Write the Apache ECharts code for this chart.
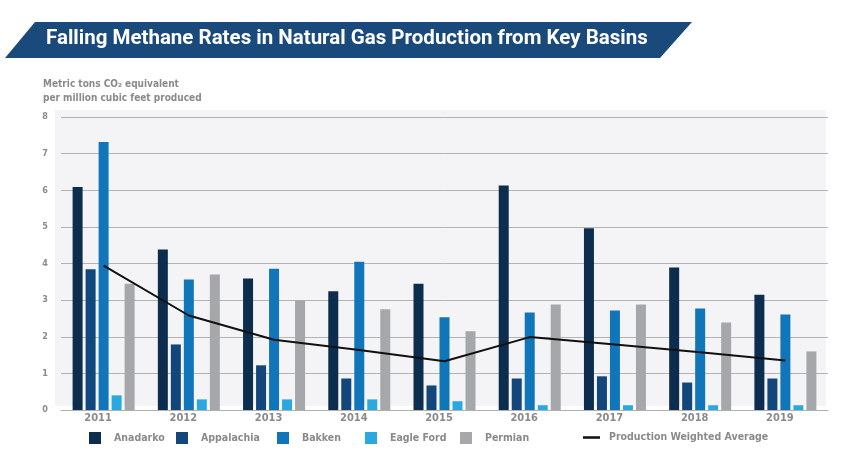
<!DOCTYPE html>
<html><head><meta charset="utf-8">
<script src="https://cdn.jsdelivr.net/npm/echarts@6/dist/echarts.min.js"></script>
<style>html,body{margin:0;padding:0;background:#fff}#c{width:845px;height:460px}</style>
</head><body><div id="c"></div>
<script>
const years = ['2011','2012','2013','2014','2015','2016','2017','2018','2019'];
const anadarko   = [6.09, 4.38, 3.59, 3.24, 3.45, 6.13, 4.96, 3.89, 3.15];
const appalachia = [3.84, 1.79, 1.22, 0.86, 0.67, 0.86, 0.92, 0.75, 0.86];
const bakken     = [7.32, 3.56, 3.86, 4.05, 2.53, 2.66, 2.72, 2.77, 2.61];
const eagleFord  = [0.40, 0.29, 0.29, 0.29, 0.24, 0.13, 0.13, 0.13, 0.13];
const permian    = [3.45, 3.70, 3.00, 2.75, 2.15, 2.88, 2.88, 2.39, 1.60];
const weightedAvg= [3.94, 2.58, 1.92, 1.64, 1.33, 1.99, 1.79, 1.58, 1.35];
const yTicks = [0,1,2,3,4,5,6,7,8];

const colors = {Anadarko:'#0d2d4f', Appalachia:'#13467a', Bakken:'#1175b9', 'Eagle Ford':'#2aa8e0', Permian:'#a5a7aa'};
const FONT = 'DejaVu Sans Condensed';
const chart = echarts.init(document.getElementById('c'));
const barSeries = [['Anadarko',anadarko],['Appalachia',appalachia],['Bakken',bakken],['Eagle Ford',eagleFord],['Permian',permian]].map(([n,d])=>({
  name:n, type:'bar', data:d, barWidth:10, barGap:'30%', itemStyle:{color:colors[n]}, z:3
}));
const legendPos = [['Anadarko',89],['Appalachia',176],['Bakken',277],['Eagle Ford',365],['Permian',460]];
const legends = legendPos.map(([n,x])=>({
  data:[{name:n, icon:'rect'}], left:x, top:432, padding:0, itemWidth:12, itemHeight:12, itemGap:0,
  textStyle:{color:'#8a8a8a', fontFamily:FONT, fontWeight:'bold', fontSize:10.5, padding:[0,0,0,8]}
}));
legends.push({data:[{name:'Production Weighted Average', icon:'path://M0,0 L20,0 L20,3 L0,3 Z'}], left:583, top:432, padding:0, itemWidth:17, itemHeight:12,
  textStyle:{color:'#8a8a8a', fontFamily:FONT, fontWeight:'bold', fontSize:10.5, padding:[0,0,0,4]}});

chart.setOption({
  animation:false,
  backgroundColor:'#ffffff',
  graphic:[
    {type:'polygon', z:-10, shape:{points:[[35,22],[692,22],[660,58],[5,58]]}, style:{fill:'#1a4a7c'}},
    {type:'text', z:10, left:46, top:28, style:{text:'Falling Methane Rates in Natural Gas Production from Key Basins', fill:'#ffffff', font:'bold 20.5px Roboto'}},
    {type:'rect', z:-10, shape:{x:55,y:110,width:771,height:296}, style:{fill:'#f4f4f6'}},
    {type:'text', z:10, left:43, top:79, style:{text:'Metric tons CO₂ equivalent', fill:'#8a8a8a', font:'bold 10px "DejaVu Sans Condensed"'}},
    {type:'text', z:10, left:43, top:93, style:{text:'per million cubic feet produced', fill:'#8a8a8a', font:'bold 10px "DejaVu Sans Condensed"'}}
  ],
  legend: legends,
  grid:{left:61, right:17, top:117, bottom:50},
  xAxis:{type:'category', data:years, axisTick:{show:false},
    axisLine:{lineStyle:{color:'#b0b0b0'}},
    axisLabel:{color:'#8a8a8a', fontFamily:FONT, fontWeight:'bold', fontSize:11, margin:3, padding:[0,11,0,0]}},
  yAxis:{type:'value', min:0, max:8, interval:1,
    axisLine:{show:false}, axisTick:{show:false},
    splitLine:{lineStyle:{color:'#b3b3b3', width:1}},
    axisLabel:{color:'#8a8a8a', fontFamily:FONT, fontWeight:'bold', fontSize:9, margin:13,
      formatter:v=> yTicks.includes(v) ? String(v) : ''}},
  series: barSeries.concat([{
    name:'Production Weighted Average', type:'line', data:weightedAvg, symbol:'none', z:5,
    lineStyle:{color:'#111111', width:2}, itemStyle:{color:'#111111'}
  }])
});
</script></body></html>
